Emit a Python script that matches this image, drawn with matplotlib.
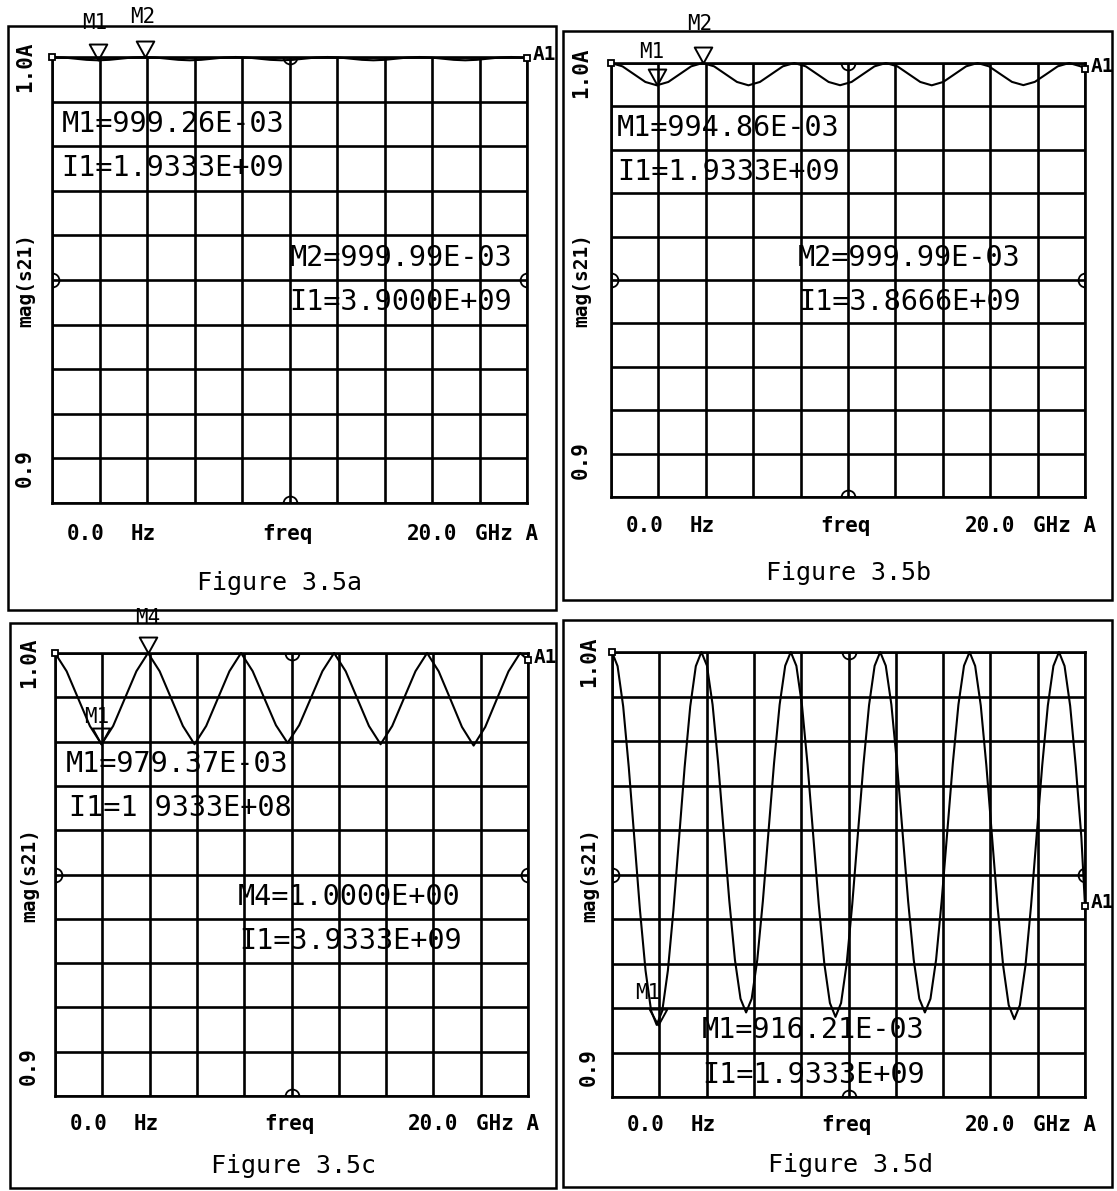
import matplotlib
matplotlib.use("Agg")
import matplotlib.pyplot as plt
from matplotlib.path import Path
from matplotlib.patches import Rectangle

W, H = 1117, 1191
FONT = "DejaVu Sans Mono"

# ------------------------------------------------------------------ data
# frequency axis (GHz) and mag(s21)
freq_ab = [0.0, 0.483, 0.967, 1.45, 1.933, 2.417, 2.9, 3.383, 3.867, 4.35,
           4.833, 5.317, 5.8, 6.283, 6.767, 7.25, 7.733, 8.217, 8.7, 9.183,
           9.667, 10.15, 10.633, 11.117, 11.6, 12.083, 12.567, 13.05, 13.533,
           14.017, 14.5, 14.983, 15.467, 15.95, 16.433, 16.917, 17.4, 17.883,
           18.367, 18.85, 19.333, 19.817, 20.0]

mag_a = [1.0, 0.99989, 0.99963, 0.99937, 0.99926, 0.99937, 0.99963, 0.99989,
         1.0, 0.99989, 0.99963, 0.99937, 0.99926, 0.99937, 0.99963, 0.99989,
         1.0, 0.99989, 0.99963, 0.99937, 0.99926, 0.99937, 0.99963, 0.99989,
         1.0, 0.99989, 0.99963, 0.99937, 0.99926, 0.99937, 0.99963, 0.99989,
         1.0, 0.99989, 0.99963, 0.99937, 0.99926, 0.99937, 0.99963, 0.99989,
         1.0, 0.99989, 0.99985]

mag_b = [1.0, 0.99923, 0.99743, 0.99563, 0.99486, 0.99563, 0.99743, 0.99923,
         1.0, 0.99923, 0.99743, 0.99563, 0.99486, 0.99563, 0.99743, 0.99923,
         1.0, 0.99923, 0.99743, 0.99563, 0.99488, 0.99563, 0.99743, 0.99923,
         1.0, 0.99923, 0.99743, 0.99563, 0.99486, 0.99563, 0.99743, 0.99923,
         1.0, 0.99923, 0.99743, 0.99565, 0.99490, 0.99565, 0.99743, 0.99923,
         1.0, 0.99923, 0.99861]

freq_c = [0.0, 0.492, 0.983, 1.475, 1.967, 2.458, 2.95, 3.442, 3.933, 4.425,
          4.917, 5.408, 5.9, 6.392, 6.883, 7.375, 7.867, 8.358, 8.85, 9.342,
          9.833, 10.325, 10.817, 11.308, 11.8, 12.292, 12.783, 13.275, 13.767,
          14.258, 14.75, 15.242, 15.733, 16.225, 16.717, 17.208, 17.7, 18.192,
          18.683, 19.175, 19.667, 20.0]

mag_c = [1.0, 0.99588, 0.9897, 0.98352, 0.9794, 0.98352, 0.9897, 0.99588,
         1.0, 0.99588, 0.9897, 0.98352, 0.9794, 0.98352, 0.9897, 0.99588,
         1.0, 0.99590, 0.9898, 0.98370, 0.9797, 0.98370, 0.9898, 0.99590,
         1.0, 0.99588, 0.9897, 0.98352, 0.9794, 0.98352, 0.9897, 0.99588,
         1.0, 0.99585, 0.9896, 0.98330, 0.9791, 0.98330, 0.9896, 0.99585,
         1.0, 0.9984]

freq_d = [0.0, 0.236, 0.473, 0.709, 0.945, 1.181, 1.418, 1.654, 1.89, 2.126,
          2.363, 2.599, 2.835, 3.071, 3.308, 3.544, 3.78, 4.016, 4.253, 4.489,
          4.725, 4.961, 5.198, 5.434, 5.67, 5.906, 6.143, 6.379, 6.615, 6.851,
          7.088, 7.324, 7.56, 7.796, 8.033, 8.269, 8.505, 8.741, 8.978, 9.214,
          9.45, 9.686, 9.923, 10.159, 10.395, 10.631, 10.868, 11.104, 11.34,
          11.576, 11.813, 12.049, 12.285, 12.521, 12.758, 12.994, 13.23,
          13.466, 13.703, 13.939, 14.175, 14.411, 14.648, 14.884, 15.12,
          15.356, 15.593, 15.829, 16.065, 16.301, 16.538, 16.774, 17.01,
          17.246, 17.483, 17.719, 17.955, 18.191, 18.428, 18.664, 18.9,
          19.136, 19.373, 19.609, 19.845, 20.0]

mag_d = [1.0,
         0.99682, 0.98777, 0.97411, 0.9581, 0.94209, 0.92843, 0.91938, 0.9162,
         0.91938, 0.92843, 0.94209, 0.9581, 0.97411, 0.98777, 0.99682, 1.0,
         0.99692, 0.98817, 0.97497, 0.9595, 0.94403, 0.93083, 0.92208, 0.919,
         0.92208, 0.93083, 0.94403, 0.9595, 0.97497, 0.98817, 0.99692, 1.0,
         0.99688, 0.98803, 0.97466, 0.959, 0.94334, 0.92997, 0.92112, 0.918,
         0.92112, 0.92997, 0.94334, 0.959, 0.97466, 0.98803, 0.99688, 1.0,
         0.99692, 0.98817, 0.97497, 0.9595, 0.94403, 0.93083, 0.92208, 0.919,
         0.92208, 0.93083, 0.94403, 0.9595, 0.97497, 0.98817, 0.99692, 1.0,
         0.99686, 0.98796, 0.97451, 0.95875, 0.94299, 0.92955, 0.92064, 0.9175,
         0.92064, 0.92955, 0.94299, 0.95875, 0.97451, 0.98796, 0.99686, 1.0,
         0.99685, 0.98788, 0.97435, 0.9585, 0.943]

# marker readouts: (name, freq GHz, value)
markers_a = [("M1", 1.9333, 0.99926), ("M2", 3.9000, 0.99999)]
markers_b = [("M1", 1.9333, 0.99486), ("M2", 3.8666, 0.99999)]
markers_c = [("M1", 1.9333, 0.97937), ("M4", 3.9333, 1.0000)]
markers_d = [("M1", 1.9333, 0.91621)]

readouts_a = ["M1=999.26E-03", "I1=1.9333E+09", "M2=999.99E-03", "I1=3.9000E+09"]
readouts_b = ["M1=994.86E-03", "I1=1.9333E+09", "M2=999.99E-03", "I1=3.8666E+09"]
readouts_c = ["M1=979.37E-03", "I1=1 9333E+08", "M4=1.0000E+00", "I1=3.9333E+09"]
readouts_d = ["M1=916.21E-03", "I1=1.9333E+09"]

captions = ["Figure 3.5a", "Figure 3.5b", "Figure 3.5c", "Figure 3.5d"]
x_ticks = [0, 2, 4, 6, 8, 10, 12, 14, 16, 18, 20]
y_ticks = [0.90, 0.91, 0.92, 0.93, 0.94, 0.95, 0.96, 0.97, 0.98, 0.99, 1.00]

# ------------------------------------------------------------------ layout
panels = [
    dict(grid=(52, 57, 527, 503), box=(8, 26, 556, 610), f=freq_ab, m=mag_a,
         mk=markers_a, mk_off=[(-3, 37), (-2, 40)],
         ro=readouts_a, ro_pos=[(0.02, 2), (0.02, 3), (0.50, 5), (0.50, 6)],
         ax_dy=31, cap_dy=80, cap_dx=-10, ylab_x=25, lab09=-35),
    dict(grid=(611, 63, 1085, 497), box=(563, 31, 1112, 600), f=freq_ab, m=mag_b,
         mk=markers_b, mk_off=[(-5, 33), (-3, 39)],
         ro=readouts_b, ro_pos=[(0.013, 2), (0.013, 3), (0.395, 5), (0.395, 6)],
         ax_dy=29, cap_dy=76, cap_dx=0, ylab_x=581, lab09=-37),
    dict(grid=(55, 653, 528, 1096), box=(10, 623, 556, 1188), f=freq_c, m=mag_c,
         mk=markers_c, mk_off=[(-4, 27), (0, 35)],
         ro=readouts_c, ro_pos=[(0.023, 3), (0.03, 4), (0.386, 6), (0.39, 7)],
         ax_dy=28, cap_dy=70, cap_dx=2, ylab_x=29, lab09=-30),
    dict(grid=(612, 652, 1085, 1097), box=(563, 620, 1112, 1187), f=freq_d, m=mag_d,
         mk=markers_d, mk_off=[(-10, 32)],
         ro=readouts_d, ro_pos=[(0.19, 9), (0.19, 10)],
         ax_dy=28, cap_dy=68, cap_dx=2, ylab_x=589, lab09=-30),
]

tri = Path([(0, 0), (-0.55, 1), (0.55, 1), (0, 0)],
           [Path.MOVETO, Path.LINETO, Path.LINETO, Path.CLOSEPOLY])
arc_right = Path.arc(-90, 90)
arc_left = Path.arc(90, 270)
arc_down = Path.arc(180, 360)
arc_up = Path.arc(0, 180)

GRID_LW = 1.9

fig = plt.figure(figsize=(W / 100, H / 100), dpi=100)
fig.patch.set_facecolor("white")


def fx(x):
    return x / W


def fy(y):
    return 1 - y / H


for p, cap in zip(panels, captions):
    L, T, R, B = p["grid"]
    ax = fig.add_axes([fx(L), fy(B), (R - L) / W, (B - T) / H])
    ax.set_xlim(0, 20)
    ax.set_ylim(0.9, 1.0)
    ax.set_xticks(x_ticks)
    ax.set_yticks(y_ticks)
    ax.grid(True, color="black", lw=GRID_LW)
    ax.tick_params(length=0, labelbottom=False, labelleft=False)
    for s in ax.spines.values():
        s.set_linewidth(GRID_LW)
        s.set_color("black")
    ax.set_facecolor("white")

    # trace
    ax.plot(p["f"], p["m"], color="black", lw=1.5, clip_on=False, zorder=4)
    # start / end squares
    ax.plot([p["f"][0]], [p["m"][0]], marker="s", ms=5, mfc="white", mec="black",
            mew=1.3, clip_on=False, zorder=5)
    ax.plot([p["f"][-1]], [p["m"][-1]], marker="s", ms=5, mfc="white", mec="black",
            mew=1.3, clip_on=False, zorder=5)
    ax.annotate("A1", xy=(p["f"][-1], p["m"][-1]), xytext=(6, 3),
                textcoords="offset pixels", ha="left", va="center",
                fontsize=14, family=FONT, fontweight="bold", annotation_clip=False)

    # reference half-circle markers
    for (xx, yy, mpath) in [(0, 0.95, arc_right), (20, 0.95, arc_left),
                            (10, 1.0, arc_down), (10, 0.9, arc_up)]:
        ax.plot([xx], [yy], marker=mpath, ms=10, mfc="none", mec="black",
                mew=1.3, clip_on=False, zorder=5)

    # marker triangles and names
    for (name, mf, mv), off in zip(p["mk"], p["mk_off"]):
        ax.plot([mf], [mv], marker=tri, ms=23, mfc="none", mec="black", mew=1.4,
                clip_on=False, zorder=6)
        ax.annotate(name, xy=(mf, mv), xytext=off, textcoords="offset pixels",
                    ha="center", va="center", fontsize=15, family=FONT,
                    annotation_clip=False, zorder=6)

    # marker readouts
    for txt, (xf, row) in zip(p["ro"], p["ro_pos"]):
        ax.text(xf, 1 - (row - 0.5) / 10, txt, transform=ax.transAxes,
                ha="left", va="center", fontsize=20.5, family=FONT, zorder=3)

    # y labels
    mid = (T + B) / 2
    fig.text(fx(p["ylab_x"]), fy(T + 10), "1.0A", rotation=90, ha="center",
             va="center", fontsize=15, family=FONT, fontweight="bold")
    fig.text(fx(p["ylab_x"] + 1), fy(mid), "mag(s21)", rotation=90, ha="center",
             va="center", fontsize=14, family=FONT, fontweight="bold")
    fig.text(fx(p["ylab_x"]), fy(B + p["lab09"]), "0.9", rotation=90, ha="center",
             va="center", fontsize=15, family=FONT, fontweight="bold")

    # x labels
    ya = fy(B + p["ax_dy"])
    kw = dict(ha="center", va="center", fontsize=15, family=FONT, fontweight="bold")
    fig.text(fx(L + 34), ya, "0.0", **kw)
    fig.text(fx(L + 91), ya, "Hz", **kw)
    fig.text(fx((L + R) / 2 - 2), ya, "freq", **kw)
    fig.text(fx(R - 95), ya, "20.0", **kw)
    fig.text(fx(R - 20), ya, "GHz A", **kw)
    fig.text(fx((L + R) / 2 + p["cap_dx"]), fy(B + p["cap_dy"]), cap, ha="center",
             va="center", fontsize=18, family=FONT)

    # outer frame
    x0, y0, x1, y1 = p["box"]
    fig.add_artist(Rectangle((fx(x0), fy(y1)), (x1 - x0) / W, (y1 - y0) / H,
                             transform=fig.transFigure, fill=False, lw=1.8,
                             ec="black", zorder=10))

fig.savefig("out.png", dpi=100, facecolor="white")
